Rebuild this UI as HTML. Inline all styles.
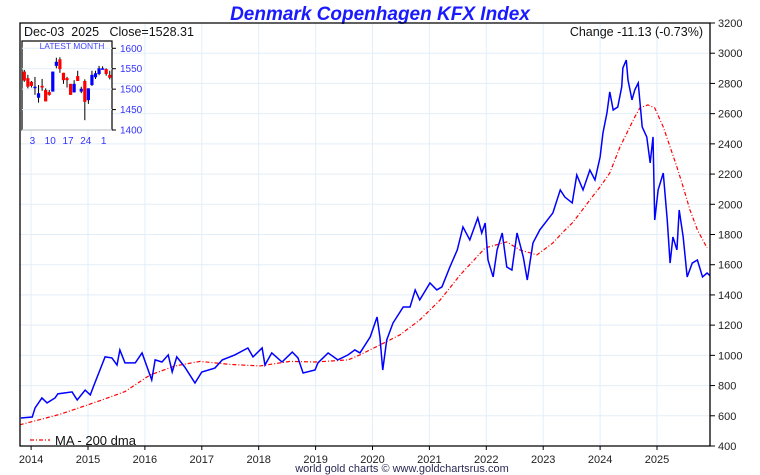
<!DOCTYPE html>
<html><head><meta charset="utf-8"><style>
html,body{margin:0;padding:0;background:#fff;}
svg{display:block;font-family:"Liberation Sans",sans-serif;}
</style></head><body>
<svg id="chart" width="760" height="475" viewBox="0 0 760 475" xmlns="http://www.w3.org/2000/svg">
<text x="380" y="20" text-anchor="middle" font-size="19" font-weight="bold" font-style="italic" fill="#1a1aff">Denmark Copenhagen KFX Index</text>
<g id="grid"></g>
<g id="series"></g>
<g id="axes"></g>
<text x="24" y="36" font-size="12.5" fill="#111" style="white-space:pre">Dec-03  2025   Close=1528.31</text>
<text x="703" y="36" text-anchor="end" font-size="12.5" fill="#111">Change -11.13 (-0.73%)</text>
<g id="legend">
<line x1="30" y1="440" x2="50" y2="440" stroke="#ff0000" stroke-width="1.2" stroke-dasharray="4,2,1,2"/>
<text x="55" y="445" font-size="13" fill="#111">MA - 200 dma</text>
</g>
<g id="inset"></g>
<text x="402" y="472" text-anchor="middle" font-size="11" fill="#2a2a55">world gold charts © www.goldchartsrus.com</text>
</svg>
<script>
// ---- main chart data ----
const priceDates = [2013.82,2014.02,2014.07,2014.19,2014.28,2014.42,2014.47,2014.72,2014.81,2014.95,2015.04,2015.12,2015.21,2015.30,2015.42,2015.51,2015.56,2015.65,2015.83,2015.95,2016.12,2016.18,2016.30,2016.41,2016.48,2016.56,2016.70,2016.88,2017.00,2017.23,2017.36,2017.58,2017.81,2017.90,2018.06,2018.11,2018.23,2018.41,2018.59,2018.69,2018.78,2018.99,2019.04,2019.22,2019.39,2019.57,2019.69,2019.78,2019.96,2020.08,2020.13,2020.18,2020.25,2020.36,2020.54,2020.66,2020.75,2020.83,2021.01,2021.13,2021.22,2021.36,2021.49,2021.59,2021.71,2021.85,2021.92,2021.98,2022.03,2022.12,2022.19,2022.28,2022.36,2022.45,2022.54,2022.65,2022.72,2022.82,2022.94,2023.17,2023.30,2023.38,2023.51,2023.59,2023.70,2023.82,2023.91,2024.00,2024.05,2024.12,2024.17,2024.23,2024.31,2024.38,2024.40,2024.46,2024.49,2024.56,2024.61,2024.67,2024.74,2024.82,2024.88,2024.93,2024.96,2025.02,2025.11,2025.18,2025.23,2025.28,2025.35,2025.39,2025.46,2025.53,2025.62,2025.71,2025.80,2025.88,2025.93];
const priceValues = [585,592,652,718,685,718,745,758,705,770,738,817,903,990,983,936,1036,950,950,1016,837,970,956,1003,890,990,923,817,890,916,970,1003,1049,990,1049,936,1016,956,1022,983,883,903,950,1016,970,1003,1036,1016,1122,1254,1122,903,1102,1214,1320,1320,1433,1367,1479,1433,1453,1585,1698,1850,1764,1910,1810,1876,1631,1519,1698,1810,1585,1565,1810,1651,1499,1744,1830,1943,2095,2048,2009,2194,2095,2227,2161,2313,2472,2604,2744,2624,2644,2777,2902,2955,2823,2691,2757,2803,2512,2446,2274,2446,1896,2095,2207,1896,1611,1784,1698,1962,1784,1519,1611,1631,1519,1545,1528];
const maDates = [2013.80,2014.51,2015.21,2015.65,2016.09,2016.53,2016.97,2017.50,2018.02,2018.55,2018.99,2019.57,2019.78,2020.13,2020.48,2020.83,2021.19,2021.54,2021.98,2022.36,2022.59,2022.89,2023.17,2023.35,2023.51,2023.65,2023.82,2024.00,2024.17,2024.35,2024.47,2024.61,2024.70,2024.84,2024.96,2025.11,2025.23,2025.35,2025.46,2025.58,2025.71,2025.88];
const maValues = [540,610,700,760,870,930,960,940,930,960,956,970,1003,1069,1135,1234,1367,1532,1711,1751,1698,1665,1744,1817,1876,1943,2029,2115,2207,2380,2472,2578,2638,2658,2638,2512,2380,2247,2115,1962,1830,1711];
const yTicks = [400,600,800,1000,1200,1400,1600,1800,2000,2200,2400,2600,2800,3000,3200];
const xTicks = [2014,2015,2016,2017,2018,2019,2020,2021,2022,2023,2024,2025];
// ---- inset (latest month) data ----
const candleDays = [0,1,2,3,4,5,6,7,8,9,10,11,12,13,14,15,16,17,18,19,20,21,22,23,24];
const candleOpen = [1543,1527,1518,1504,1479,1508,1498,1493,1494,1557,1573,1540,1527,1513,1492,1532,1494,1520,1473,1510,1529,1537,1549,1549,1535];
const candleClose = [1521,1506,1508,1506,1490,1504,1470,1486,1543,1567,1549,1522,1522,1486,1513,1520,1501,1469,1502,1535,1539,1551,1551,1537,1528];
const candleHigh = [1547,1535,1520,1530,1510,1525,1502,1498,1543,1577,1578,1540,1530,1513,1522,1545,1506,1524,1502,1545,1545,1557,1556,1551,1545];
const candleLow = [1518,1502,1504,1486,1467,1496,1470,1484,1494,1551,1540,1513,1504,1486,1492,1520,1490,1424,1464,1508,1525,1534,1548,1533,1524];
const insetYTicks = [1400,1450,1500,1550,1600];
const insetXLabels = ["3","10","17","24","1"];
const insetXLabelDays = [2,7,12,17,22];

const NS = "http://www.w3.org/2000/svg";
function mk(tag, attrs, parent){const e=document.createElementNS(NS,tag);for(const k in attrs)e.setAttribute(k,attrs[k]);parent.appendChild(e);return e;}
const L=20,R=710,T=23,B=446;
const x=t=>88+(t-2015)*56.9;
const y=v=>B-(v-400)/2800*(B-T);
const grid=document.getElementById('grid'),axes=document.getElementById('axes'),series=document.getElementById('series');

yTicks.forEach(v=>{
  if(v>400&&v<3200){const g=mk('line',{x1:L,x2:R,y1:y(v),y2:y(v),stroke:'#e3eef8','stroke-width':1},grid);
  
  }
  const tk=mk('line',{x1:R,x2:R+5,y1:y(v),y2:y(v),stroke:'#000'},axes);
  
  
  const tx=mk('text',{x:R+8,y:y(v)+4,'font-size':11,fill:'#222'},axes);tx.textContent=v;
  
  
});
xTicks.forEach(t=>{
  const g=mk('line',{x1:x(t),x2:x(t),y1:T,y2:B,stroke:'#e3eef8'},grid);
  
  
  const tk=mk('line',{x1:x(t),x2:x(t),y1:B,y2:B+4,stroke:'#000'},axes);
  
  
  const tx=mk('text',{x:x(t),y:B+17,'font-size':11,'text-anchor':'middle',fill:'#222'},axes);tx.textContent=t;
  
  
});
const frame=mk('path',{d:`M${L},${T}H${R}V${B}H${L}Z`,fill:'none',stroke:'#000','stroke-width':1.3},axes);



const ma=mk('polyline',{points:maDates.map((t,i)=>x(t)+','+y(maValues[i])).join(' '),fill:'none',stroke:'#ff0000','stroke-width':1.2,'stroke-dasharray':'4,2,1,2'},series);


const pl=mk('polyline',{points:priceDates.map((t,i)=>x(t)+','+y(priceValues[i])).join(' '),fill:'none',stroke:'#0000ff','stroke-width':1.5,'stroke-linejoin':'miter'},series);



// inset
const inset=document.getElementById('inset');
const iL=22,iR=112,iT=41,iB=130;
const iy=v=>48.3+(1600-v)/200*(130-48.3);
const ix=d=>24.3+d*3.56;
const bg=mk('rect',{x:iL,y:iT,width:iR-iL,height:iB-iT,fill:'#fff',stroke:'#000','stroke-width':1.2},inset);


insetYTicks.forEach(v=>{
  const g=mk('line',{x1:iL,x2:iR,y1:iy(v),y2:iy(v),stroke:'#e3eef8'},inset);
  
  
  const tk=mk('line',{x1:iR,x2:iR+4,y1:iy(v),y2:iy(v),stroke:'#000'},inset);
  
  
  const tx=mk('text',{x:iR+8,y:iy(v)+3.5,'font-size':10,fill:'#3333ff'},inset);tx.textContent=v;
  
  
});
insetXLabels.forEach((s,i)=>{
  const tx=mk('text',{x:ix(insetXLabelDays[i])+1,y:144,'font-size':10,'text-anchor':'middle',fill:'#3333ff'},inset);tx.textContent=s;
  
  
});
const it=mk('text',{x:72,y:49,'font-size':8.5,'text-anchor':'middle',fill:'#4444ff'},inset);it.textContent='LATEST MONTH';


candleDays.forEach((d,i)=>{
  const o=candleOpen[i],c=candleClose[i],cx=ix(d);
  const w=mk('line',{x1:cx,x2:cx,y1:iy(candleHigh[i]),y2:iy(candleLow[i]),stroke:'#000','stroke-width':1},inset);
  
  
  const top=iy(Math.max(o,c)),h=Math.max(1.5,Math.abs(iy(o)-iy(c)));
  const r=mk('rect',{x:cx-1.6,y:top,width:3.2,height:h,fill:c>=o?'#0000ff':'#ff0000'},inset);
  
  
});
</script>
</body></html>
